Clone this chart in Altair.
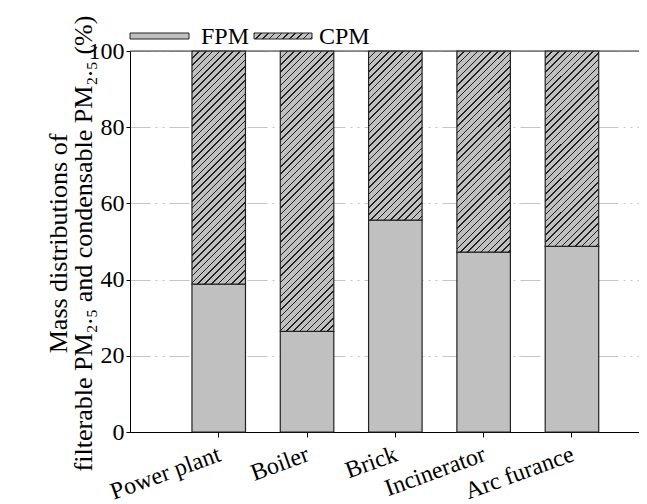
import altair as alt
import pandas as pd

# ---- data ----
categories = ["Power plant", "Boiler", "Brick", "Incinerator", "Arc furance"]
fpm = [38.8, 26.4, 55.6, 47.2, 48.7]
cpm = [61.2, 73.6, 44.4, 52.8, 51.3]
y_ticks = [0, 20, 40, 60, 80, 100]
legend_labels = ["FPM", "CPM"]
y_title = ["Mass distributions of", "filterable PM\u2082.\u2085 and condensable PM\u2082.\u2085 (%)"]

# ---- style ----
PLOT_W, PLOT_H = 509, 381   # whole svg = 122 + 509 = 631 px, the page's content width
BAR_W = 53.5
GRAY = "#c0c0c0"
INK = "#222222"
FONT = "Liberation Serif"


def hatch(w, h, period=6.8, line=1.5):
    """Diagonal '/' hatching built as a hard-stop linear gradient (45 deg in pixel space)."""
    total = w + h
    k = total / (w * w + h * h)
    stops = []
    pos = 0.0
    while pos < total:
        a = pos / total
        b = min((pos + line) / total, 1.0)
        stops += [
            alt.GradientStop(offset=a, color=GRAY),
            alt.GradientStop(offset=a, color=INK),
            alt.GradientStop(offset=b, color=INK),
            alt.GradientStop(offset=b, color=GRAY),
        ]
        pos += period
    return alt.LinearGradient(gradient="linear", x1=0, y1=0, x2=k * w, y2=k * h, stops=stops)


df = pd.DataFrame({
    "cat": categories,
    "fpm": fpm,
    "cpm": cpm,
})
df["top"] = df["fpm"] + df["cpm"]

x_enc = alt.X(
    "cat:N",
    sort=categories,
    scale=alt.Scale(domain=categories, paddingInner=0.394, paddingOuter=0.579, align=0.606),
    axis=alt.Axis(
        title=None, labelAngle=340, labelAlign="right", labelBaseline="top",
        labelFontSize=24, labelFont=FONT, labelColor="black", labelPadding=5,
        labelOffset=-3, labelLimit=400, tickSize=5, tickColor="black", tickWidth=1,
        domainColor="black", domainWidth=1, grid=False,
    ),
)

y_scale = alt.Scale(domain=[0, 100], nice=False)
y_axis = alt.Axis(
    values=y_ticks, format="d", title=y_title,
    titleFontSize=26, titleFont=FONT, titleFontWeight="normal", titleColor="black",
    titleX=-59, titleY=192, titleAngle=270, titleAlign="center", titleBaseline="bottom",
    titleLineHeight=25,
    labelFontSize=24, labelFont=FONT, labelColor="black", labelPadding=2,
    tickSize=4, tickColor="black", domainColor="black", domainWidth=1,
    grid=True, gridColor="#c4c4c4", gridDash=[20, 5, 2, 5, 2, 5], gridWidth=1,
)

fpm_layer = alt.Chart(df).mark_bar(fill=GRAY, stroke=INK, strokeWidth=1.2).encode(
    x=x_enc,
    y=alt.Y("fpm:Q", scale=y_scale, axis=y_axis),
)

cpm_layers = []
for i, c in enumerate(categories):
    h_px = cpm[i] * PLOT_H / 100.0
    cpm_layers.append(
        alt.Chart(df)
        .transform_filter(alt.datum.cat == c)
        .mark_bar(fill=hatch(BAR_W, h_px), stroke=INK, strokeWidth=1.2)
        .encode(x=x_enc, y=alt.Y("fpm:Q", scale=y_scale, axis=y_axis), y2="top:Q")
    )

top_rule = alt.Chart(pd.DataFrame({"v": [y_ticks[-1]]})).mark_rule(color="#333333", strokeWidth=1).encode(
    y=alt.Y("v:Q", scale=y_scale, axis=y_axis)
)

leg = pd.DataFrame({"label": legend_labels})
sw_fpm = alt.Chart(leg).transform_filter(alt.datum.label == "FPM").mark_rect(
    fill=GRAY, stroke=INK, strokeWidth=1
).encode(x=alt.value(0), x2=alt.value(59), y=alt.value(-18), y2=alt.value(-12))
sw_cpm = alt.Chart(leg).transform_filter(alt.datum.label == "CPM").mark_rect(
    fill=hatch(58, 6), stroke=INK, strokeWidth=1
).encode(x=alt.value(124), x2=alt.value(182), y=alt.value(-18), y2=alt.value(-12))
txt_fpm = alt.Chart(leg).transform_filter(alt.datum.label == "FPM").mark_text(
    align="left", baseline="alphabetic", fontSize=24, font=FONT, color="black"
).encode(x=alt.value(71), y=alt.value(-7), text="label:N")
txt_cpm = alt.Chart(leg).transform_filter(alt.datum.label == "CPM").mark_text(
    align="left", baseline="alphabetic", fontSize=24, font=FONT, color="black"
).encode(x=alt.value(189), y=alt.value(-7), text="label:N")

chart = alt.layer(
    fpm_layer, *cpm_layers, top_rule, sw_fpm, sw_cpm, txt_fpm, txt_cpm
).properties(
    width=PLOT_W, height=PLOT_H,
    padding={"left": 122, "top": 43, "right": 0, "bottom": 78},
    autosize=alt.AutoSizeParams(type="none"),
).configure_view(strokeWidth=0).configure(background="white")

chart.save("out.html", embed_options={"renderer": "svg", "actions": False})
